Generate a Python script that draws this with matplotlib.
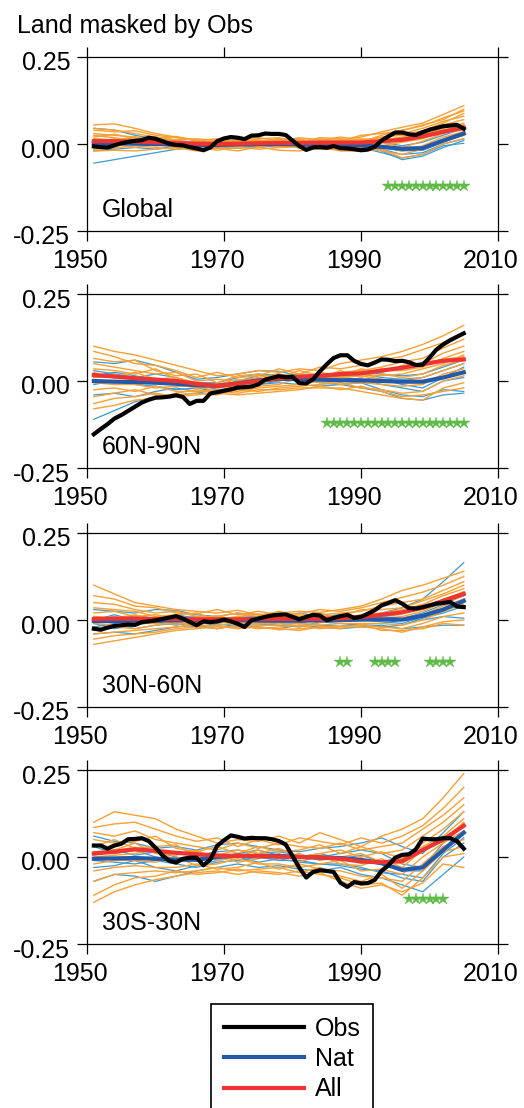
import matplotlib
matplotlib.use("Agg")
import matplotlib.pyplot as plt
import matplotlib.transforms as mtransforms

plt.rcParams['font.family'] = ['Liberation Sans', 'DejaVu Sans']

# ---------------- data ----------------
title = "Land masked by Obs"
regions = ["Global", "60N-90N", "30N-60N", "30S-30N"]
legend_labels = ["Obs", "Nat", "All"]
xticks = [1950, 1970, 1990, 2010]
yticks = [-0.25, 0.0, 0.25]
ytick_labels = ["-0.25", "0.00", "0.25"]

years = list(range(1951, 2006))            # observations, yearly
ens_years = list(range(1951, 2006, 3))     # model members / means, 3-yearly

obs_global = [-0.007, -0.009, -0.010, -0.004, 0.002, 0.006, 0.009, 0.011, 0.018, 0.015,
              0.008, 0.001, -0.003, -0.004, -0.009, -0.013, -0.018, -0.010, 0.008, 0.016,
              0.020, 0.018, 0.014, 0.024, 0.025, 0.030, 0.029, 0.029, 0.026, 0.010,
              -0.006, -0.017, -0.010, -0.009, -0.011, -0.006, -0.012, -0.013, -0.015, -0.018,
              -0.016, -0.008, 0.010, 0.022, 0.033, 0.033, 0.028, 0.026, 0.034, 0.041,
              0.046, 0.051, 0.053, 0.055, 0.044]
obs_60n90n = [-0.153, -0.138, -0.124, -0.108, -0.098, -0.086, -0.074, -0.062, -0.054, -0.048,
              -0.047, -0.045, -0.041, -0.046, -0.066, -0.057, -0.057, -0.036, -0.032, -0.028,
              -0.024, -0.019, -0.018, -0.016, -0.010, 0.004, 0.009, 0.014, 0.011, 0.012,
              -0.006, -0.007, 0.005, 0.028, 0.048, 0.066, 0.074, 0.074, 0.058, 0.049,
              0.045, 0.053, 0.062, 0.061, 0.057, 0.058, 0.054, 0.046, 0.047, 0.067,
              0.090, 0.105, 0.117, 0.127, 0.137]
obs_30n60n = [-0.025, -0.028, -0.022, -0.017, -0.015, -0.013, -0.014, -0.006, -0.004, -0.001,
              0.003, 0.007, 0.011, 0.004, -0.006, -0.015, -0.004, -0.006, -0.004, 0.001,
              -0.004, -0.011, -0.020, -0.001, 0.004, 0.009, 0.013, 0.015, 0.016, 0.009,
              0.002, 0.009, 0.015, 0.013, -0.001, 0.006, 0.011, 0.015, 0.006, 0.009,
              0.018, 0.028, 0.042, 0.049, 0.057, 0.047, 0.034, 0.033, 0.037, 0.042,
              0.047, 0.049, 0.052, 0.039, 0.037]
obs_30s30n = [0.033, 0.033, 0.024, 0.033, 0.038, 0.051, 0.052, 0.054, 0.046, 0.027,
              0.005, -0.011, -0.016, -0.005, -0.002, -0.002, -0.024, -0.007, 0.032, 0.048,
              0.062, 0.058, 0.053, 0.055, 0.054, 0.054, 0.051, 0.046, 0.036, 0.003,
              -0.031, -0.059, -0.043, -0.038, -0.040, -0.043, -0.074, -0.086, -0.072, -0.076,
              -0.075, -0.066, -0.040, -0.024, -0.002, 0.006, 0.008, 0.022, 0.053, 0.051,
              0.051, 0.054, 0.054, 0.046, 0.024]

all_mean_global = [0.008, 0.008, 0.007, 0.005, 0.003, 0.001, 0.000, 0.001, 0.002, 0.003,
                   0.003, 0.004, 0.004, 0.004, 0.008, 0.012, 0.022, 0.035, 0.047]
nat_mean_global = [0.002, 0.002, 0.001, 0.000, -0.002, -0.003, -0.003, -0.001, 0.000, 0.000,
                   -0.001, -0.002, -0.003, -0.004, -0.008, -0.014, -0.012, 0.010, 0.030]
all_mean_60n90n = [0.017, 0.013, 0.008, 0.004, 0.000, -0.008, -0.014, -0.008, 0.000, 0.008,
                   0.012, 0.015, 0.020, 0.022, 0.030, 0.038, 0.048, 0.058, 0.062]
nat_mean_60n90n = [0.000, -0.002, -0.003, -0.005, -0.008, -0.012, -0.014, -0.007, 0.002, 0.006,
                   0.006, 0.004, 0.002, 0.002, 0.000, -0.002, -0.002, 0.010, 0.025]
all_mean_30n60n = [0.003, 0.004, 0.004, 0.003, 0.003, 0.002, 0.002, 0.002, 0.003, 0.003,
                   0.003, 0.003, 0.005, 0.008, 0.015, 0.022, 0.035, 0.055, 0.075]
nat_mean_30n60n = [-0.003, -0.003, -0.002, -0.002, -0.001, -0.001, 0.000, -0.001, -0.002, -0.002,
                   -0.002, -0.001, 0.000, 0.001, 0.002, 0.001, 0.012, 0.030, 0.055]
all_mean_30s30n = [0.010, 0.015, 0.022, 0.018, 0.012, 0.008, 0.004, 0.003, 0.003, 0.001,
                   0.000, -0.001, -0.005, -0.013, -0.015, -0.012, 0.020, 0.050, 0.090]
nat_mean_30s30n = [-0.005, -0.004, -0.003, -0.005, -0.008, -0.008, 0.000, 0.004, 0.002, 0.003,
                   0.000, -0.002, -0.003, -0.008, -0.018, -0.037, -0.030, 0.020, 0.070]

all_members_global = [
    [0.055, 0.058, 0.045, 0.030, 0.020, 0.012, 0.005, 0.010, 0.008, 0.015, 0.010, 0.006, 0.012, 0.020, 0.035, 0.048, 0.060, 0.085, 0.110],
    [0.040, 0.035, 0.038, 0.025, 0.018, 0.010, 0.015, 0.005, 0.012, 0.002, 0.008, 0.015, 0.010, 0.005, 0.025, 0.040, 0.052, 0.075, 0.095],
    [0.030, 0.025, 0.020, 0.015, 0.022, 0.008, -0.005, 0.012, 0.018, 0.010, -0.002, 0.010, 0.020, 0.012, 0.018, 0.030, 0.045, 0.065, 0.080],
    [0.020, 0.028, 0.015, 0.010, 0.005, -0.005, 0.008, 0.000, 0.005, 0.012, 0.015, 0.000, 0.005, 0.015, 0.010, 0.020, 0.030, 0.055, 0.070],
    [0.012, 0.010, 0.020, 0.005, 0.000, 0.005, -0.008, -0.005, 0.010, 0.005, 0.000, 0.008, -0.005, 0.000, 0.012, 0.010, 0.025, 0.045, 0.060],
    [0.005, 0.015, 0.000, 0.012, -0.005, -0.010, 0.002, 0.008, -0.005, 0.000, 0.010, -0.005, 0.002, 0.010, -0.005, 0.005, 0.015, 0.040, 0.055],
    [0.000, -0.005, 0.008, -0.002, 0.010, 0.002, -0.012, -0.003, 0.002, -0.008, -0.005, 0.005, -0.010, -0.005, 0.005, -0.010, 0.008, 0.030, 0.045],
    [-0.008, 0.000, -0.010, 0.000, -0.008, -0.015, -0.005, -0.012, -0.010, 0.005, -0.012, -0.010, 0.000, -0.012, -0.008, -0.020, -0.005, 0.020, 0.035],
    [-0.015, -0.012, -0.005, -0.010, -0.015, -0.008, -0.018, -0.008, -0.015, -0.010, -0.008, -0.015, -0.015, -0.008, -0.020, -0.030, -0.015, 0.010, 0.025],
    [-0.020, -0.018, -0.020, -0.015, -0.010, -0.020, -0.012, -0.020, -0.008, -0.018, -0.020, -0.008, -0.020, -0.020, -0.015, -0.040, -0.030, 0.000, 0.015],
    [0.045, 0.040, 0.030, 0.020, 0.012, 0.015, 0.010, 0.018, 0.005, 0.008, 0.018, 0.012, 0.008, 0.025, 0.030, 0.038, 0.055, 0.070, 0.100],
    [0.025, 0.018, 0.010, 0.020, 0.008, 0.000, 0.012, 0.005, 0.015, 0.018, 0.005, 0.018, 0.015, 0.008, 0.020, 0.025, 0.038, 0.060, 0.088],
    [0.010, 0.005, 0.012, 0.008, 0.002, 0.004, -0.002, 0.003, 0.006, 0.000, 0.005, 0.002, 0.008, 0.005, 0.012, 0.018, 0.028, 0.040, 0.050],
    [0.002, 0.010, 0.004, 0.000, 0.006, -0.002, 0.004, -0.002, 0.000, 0.006, 0.000, 0.008, 0.000, 0.003, 0.005, 0.008, 0.018, 0.032, 0.040],
    [0.015, 0.012, 0.008, 0.010, 0.000, 0.006, 0.002, 0.006, -0.002, 0.004, 0.008, 0.000, 0.004, 0.010, 0.008, 0.015, 0.024, 0.038, 0.055],
]
nat_members_global = [
    [-0.055, -0.045, -0.035, -0.025, -0.015, -0.010, -0.012, -0.005, -0.008, -0.002, -0.010, -0.005, -0.012, -0.010, -0.025, -0.040, -0.030, -0.005, 0.002],
    [0.045, 0.040, 0.025, 0.015, 0.010, 0.005, 0.008, 0.012, 0.005, 0.015, 0.010, 0.008, 0.005, 0.010, 0.005, -0.005, 0.005, 0.025, 0.045],
    [0.015, 0.010, 0.018, 0.005, -0.008, -0.012, -0.005, 0.005, 0.010, 0.005, 0.012, -0.003, 0.000, -0.005, -0.010, -0.020, -0.018, 0.005, 0.025],
    [-0.020, -0.015, -0.010, -0.015, -0.005, 0.005, -0.010, -0.012, -0.003, -0.010, -0.005, -0.012, -0.008, 0.000, -0.015, -0.030, -0.025, 0.000, 0.015],
    [0.005, 0.012, 0.000, 0.010, 0.005, -0.008, 0.002, -0.005, 0.008, 0.000, -0.008, 0.005, -0.003, -0.012, -0.005, -0.010, -0.008, 0.012, 0.035],
    [-0.010, 0.000, 0.005, -0.005, 0.000, -0.005, -0.010, 0.000, -0.010, 0.008, 0.000, -0.008, 0.010, 0.002, -0.020, -0.045, -0.035, -0.010, 0.010],
]
all_members_60n90n = [
    [0.100, 0.085, 0.075, 0.060, 0.045, 0.030, 0.015, 0.020, 0.030, 0.025, 0.035, 0.030, 0.050, 0.060, 0.070, 0.085, 0.105, 0.130, 0.160],
    [0.085, 0.070, 0.050, 0.045, 0.030, 0.010, 0.025, 0.010, 0.015, 0.035, 0.020, 0.040, 0.035, 0.045, 0.060, 0.070, 0.090, 0.110, 0.140],
    [0.065, 0.055, 0.060, 0.030, 0.015, 0.020, -0.005, 0.015, 0.020, 0.010, 0.030, 0.015, 0.025, 0.030, 0.040, 0.055, 0.065, 0.095, 0.120],
    [0.050, 0.040, 0.030, 0.020, 0.025, 0.000, 0.005, 0.000, 0.010, 0.020, 0.008, 0.025, 0.015, 0.035, 0.025, 0.045, 0.050, 0.080, 0.100],
    [0.035, 0.030, 0.020, 0.035, 0.005, -0.010, -0.010, 0.005, -0.005, 0.012, 0.015, 0.005, 0.030, 0.010, 0.030, 0.030, 0.040, 0.065, 0.085],
    [0.020, 0.010, 0.025, 0.005, 0.010, -0.005, -0.020, -0.010, 0.005, 0.000, 0.020, 0.010, 0.010, 0.020, 0.015, 0.020, 0.035, 0.050, 0.075],
    [0.010, 0.020, 0.000, -0.005, -0.010, -0.020, -0.015, -0.020, -0.008, 0.005, 0.000, 0.018, 0.005, 0.000, 0.020, 0.010, 0.020, 0.045, 0.060],
    [-0.005, -0.010, -0.010, -0.020, -0.015, -0.015, -0.030, -0.015, -0.015, -0.010, 0.008, -0.005, 0.010, 0.015, 0.005, 0.000, 0.010, 0.030, 0.050],
    [-0.025, -0.020, -0.030, -0.015, -0.030, -0.030, -0.025, -0.030, -0.020, -0.015, -0.010, 0.000, -0.010, -0.005, -0.010, -0.015, -0.010, 0.020, 0.035],
    [-0.045, -0.035, -0.025, -0.040, -0.040, -0.035, -0.040, -0.025, -0.030, -0.020, -0.015, -0.010, -0.005, -0.020, -0.025, -0.035, -0.030, 0.000, 0.015],
    [-0.065, -0.050, -0.045, -0.035, -0.045, -0.040, -0.030, -0.035, -0.025, -0.025, -0.020, -0.020, -0.020, -0.030, -0.040, -0.050, -0.055, -0.020, -0.005],
    [-0.080, -0.070, -0.055, -0.050, -0.035, -0.025, -0.035, -0.040, -0.035, -0.030, -0.025, -0.015, -0.025, -0.015, -0.030, -0.045, -0.040, -0.030, -0.020],
    [0.020, 0.015, 0.005, 0.008, -0.005, -0.010, -0.012, -0.005, 0.005, 0.008, 0.015, 0.012, 0.022, 0.020, 0.035, 0.035, 0.050, 0.055, 0.065],
    [0.010, 0.012, 0.010, 0.000, 0.003, -0.005, -0.018, -0.010, -0.003, 0.010, 0.010, 0.018, 0.015, 0.025, 0.025, 0.042, 0.045, 0.060, 0.058],
    [0.025, 0.008, 0.012, 0.005, -0.002, -0.012, -0.008, -0.012, 0.002, 0.005, 0.014, 0.020, 0.020, 0.018, 0.032, 0.038, 0.052, 0.062, 0.070],
]
nat_members_60n90n = [
    [-0.110, -0.085, -0.060, -0.045, -0.040, -0.035, -0.025, -0.020, -0.010, -0.005, -0.010, -0.015, -0.010, -0.020, -0.030, -0.050, -0.055, -0.040, -0.035],
    [0.055, 0.050, 0.060, 0.045, 0.025, 0.005, 0.010, 0.020, 0.030, 0.028, 0.015, 0.020, 0.015, 0.025, 0.020, 0.015, 0.020, 0.040, 0.060],
    [-0.040, -0.035, -0.045, -0.030, -0.020, -0.030, -0.020, -0.010, 0.005, 0.010, 0.005, -0.005, -0.010, -0.005, -0.025, -0.040, -0.045, -0.025, -0.030],
    [0.030, 0.020, 0.010, 0.020, 0.010, -0.010, -0.015, 0.000, 0.015, 0.020, 0.010, 0.008, 0.000, -0.005, 0.005, -0.010, -0.020, 0.010, 0.040],
    [-0.010, 0.000, -0.010, -0.015, -0.025, -0.020, -0.030, -0.015, -0.010, 0.000, 0.012, 0.005, 0.010, 0.005, -0.010, -0.020, -0.030, 0.000, 0.010],
    [0.015, 0.025, 0.015, 0.005, 0.000, -0.005, -0.005, 0.010, 0.020, 0.015, 0.020, 0.018, 0.012, 0.020, 0.010, 0.005, 0.010, 0.030, 0.050],
]
all_members_30n60n = [
    [0.100, 0.075, 0.050, 0.040, 0.030, 0.025, 0.020, 0.028, 0.015, 0.020, 0.025, 0.022, 0.030, 0.040, 0.060, 0.085, 0.100, 0.120, 0.140],
    [0.070, 0.060, 0.040, 0.035, 0.020, 0.018, 0.030, 0.015, 0.025, 0.015, 0.018, 0.030, 0.025, 0.035, 0.050, 0.065, 0.080, 0.100, 0.125],
    [0.050, 0.045, 0.030, 0.020, 0.025, 0.010, 0.010, 0.020, 0.010, 0.025, 0.010, 0.015, 0.020, 0.025, 0.040, 0.050, 0.060, 0.085, 0.110],
    [0.035, 0.030, 0.025, 0.010, 0.015, 0.020, 0.000, 0.010, 0.018, 0.005, 0.015, 0.010, 0.010, 0.030, 0.030, 0.035, 0.055, 0.075, 0.100],
    [0.020, 0.025, 0.010, 0.015, 0.005, 0.005, 0.012, 0.000, 0.005, 0.010, 0.005, 0.020, 0.005, 0.015, 0.020, 0.030, 0.045, 0.070, 0.090],
    [0.010, 0.005, 0.015, 0.000, 0.008, -0.005, 0.005, 0.008, -0.005, 0.000, 0.008, 0.000, 0.012, 0.010, 0.010, 0.020, 0.035, 0.060, 0.080],
    [0.000, 0.010, -0.005, 0.005, -0.005, 0.000, -0.008, -0.005, 0.000, 0.008, -0.005, 0.005, -0.005, 0.000, 0.015, 0.010, 0.025, 0.050, 0.070],
    [-0.010, -0.015, -0.010, -0.010, -0.012, -0.010, -0.002, -0.012, -0.010, -0.008, -0.020, -0.008, 0.000, 0.005, 0.000, 0.000, 0.015, 0.040, 0.060],
    [-0.025, -0.020, -0.025, -0.015, -0.005, -0.018, -0.015, -0.008, -0.015, -0.015, -0.010, -0.015, -0.010, -0.010, -0.010, -0.015, 0.000, 0.025, 0.045],
    [-0.040, -0.035, -0.030, -0.025, -0.020, -0.012, -0.020, -0.020, -0.020, -0.025, -0.030, -0.020, -0.018, -0.015, -0.020, -0.025, -0.010, 0.010, 0.020],
    [-0.055, -0.045, -0.040, -0.035, -0.025, -0.020, -0.025, -0.015, -0.025, -0.020, -0.015, -0.025, -0.020, -0.020, -0.025, -0.035, -0.020, -0.005, 0.000],
    [-0.070, -0.060, -0.050, -0.040, -0.030, -0.025, -0.018, -0.025, -0.020, -0.028, -0.025, -0.020, -0.025, -0.012, -0.030, -0.030, -0.025, -0.010, -0.015],
    [0.005, 0.000, 0.008, 0.004, 0.000, 0.005, 0.002, -0.002, 0.005, 0.002, 0.000, 0.005, 0.008, 0.005, 0.012, 0.025, 0.032, 0.058, 0.078],
    [-0.002, 0.008, 0.002, -0.002, 0.006, 0.000, 0.006, 0.005, 0.000, 0.006, 0.005, 0.000, 0.002, 0.010, 0.018, 0.018, 0.038, 0.050, 0.070],
    [0.010, 0.004, -0.002, 0.008, 0.002, 0.004, -0.002, 0.004, 0.008, -0.002, 0.004, 0.008, 0.004, 0.006, 0.015, 0.022, 0.035, 0.055, 0.082],
]
nat_members_30n60n = [
    [0.030, 0.025, 0.020, 0.030, 0.028, 0.015, 0.010, 0.020, 0.015, 0.010, 0.020, 0.010, 0.015, 0.010, 0.020, 0.035, 0.060, 0.110, 0.165],
    [-0.040, -0.035, -0.040, -0.030, -0.020, -0.015, -0.025, -0.015, -0.020, -0.025, -0.015, -0.020, -0.025, -0.020, -0.015, -0.025, -0.020, -0.015, -0.015],
    [0.010, 0.000, 0.012, 0.005, 0.015, 0.005, -0.005, 0.008, 0.010, -0.005, 0.005, 0.012, 0.000, 0.005, 0.010, 0.005, 0.020, 0.045, 0.070],
    [-0.020, -0.010, -0.025, -0.015, -0.010, -0.020, -0.010, -0.020, -0.010, -0.015, -0.020, -0.005, -0.010, -0.015, -0.020, -0.015, 0.005, 0.020, 0.040],
    [0.000, 0.015, 0.000, -0.010, 0.005, 0.010, 0.005, -0.005, 0.000, 0.005, -0.008, 0.000, 0.010, 0.000, -0.005, -0.010, 0.010, 0.030, 0.050],
    [-0.010, -0.025, -0.015, -0.005, -0.015, -0.005, -0.015, -0.010, -0.015, -0.008, -0.010, -0.015, -0.018, -0.012, -0.010, 0.000, 0.000, 0.010, 0.005],
]
all_members_30s30n = [
    [0.100, 0.130, 0.120, 0.110, 0.080, 0.060, 0.040, 0.050, 0.045, 0.060, 0.040, 0.070, 0.050, 0.030, 0.060, 0.080, 0.110, 0.170, 0.240],
    [0.085, 0.095, 0.100, 0.080, 0.060, 0.045, 0.055, 0.030, 0.050, 0.035, 0.055, 0.045, 0.035, 0.055, 0.040, 0.060, 0.090, 0.140, 0.200],
    [0.070, 0.060, 0.075, 0.050, 0.040, 0.030, 0.020, 0.040, 0.025, 0.040, 0.030, 0.025, 0.040, 0.020, 0.030, 0.040, 0.080, 0.120, 0.170],
    [0.050, 0.040, 0.045, 0.060, 0.025, 0.015, 0.030, 0.010, 0.030, 0.015, 0.020, 0.035, 0.010, 0.030, 0.010, 0.020, 0.060, 0.100, 0.150],
    [0.030, 0.050, 0.025, 0.030, 0.035, 0.000, 0.005, 0.020, 0.010, 0.025, 0.000, 0.010, 0.020, 0.000, 0.015, -0.005, 0.040, 0.080, 0.130],
    [0.015, 0.020, 0.040, 0.010, 0.005, 0.020, -0.010, 0.000, 0.020, -0.005, 0.010, -0.010, 0.000, 0.010, -0.015, 0.000, 0.030, 0.060, 0.110],
    [0.000, 0.005, 0.010, 0.020, -0.010, -0.010, 0.010, -0.015, -0.005, 0.010, -0.015, 0.005, -0.020, -0.025, -0.005, -0.030, 0.020, 0.050, 0.090],
    [-0.020, -0.010, -0.010, -0.015, 0.000, -0.025, -0.020, -0.005, -0.020, -0.020, -0.030, -0.020, -0.010, -0.040, -0.035, -0.050, 0.000, 0.040, 0.075],
    [-0.040, -0.030, -0.025, -0.030, -0.030, -0.020, -0.035, -0.030, -0.015, -0.035, -0.020, -0.035, -0.040, -0.055, -0.060, -0.070, -0.020, 0.030, 0.050],
    [-0.070, -0.050, -0.045, -0.040, -0.045, -0.040, -0.030, -0.040, -0.035, -0.030, -0.045, -0.030, -0.055, -0.070, -0.050, -0.090, -0.040, 0.015, 0.030],
    [-0.110, -0.080, -0.060, -0.055, -0.040, -0.050, -0.045, -0.035, -0.045, -0.050, -0.040, -0.050, -0.060, -0.080, -0.075, -0.110, -0.060, 0.000, 0.010],
    [-0.130, -0.100, -0.080, -0.065, -0.055, -0.045, -0.040, -0.050, -0.040, -0.045, -0.055, -0.045, -0.070, -0.090, -0.080, -0.100, -0.075, -0.020, -0.030],
    [0.015, 0.010, 0.025, 0.015, 0.015, 0.005, 0.008, 0.000, 0.005, 0.005, -0.005, 0.005, -0.008, -0.010, -0.020, -0.010, 0.025, 0.050, 0.095],
    [0.005, 0.020, 0.018, 0.022, 0.008, 0.012, 0.000, 0.006, 0.000, -0.003, 0.005, -0.005, 0.000, -0.018, -0.012, -0.018, 0.015, 0.055, 0.085],
    [0.010, 0.018, 0.028, 0.012, 0.010, 0.004, 0.006, 0.004, 0.006, 0.002, 0.000, 0.002, -0.006, -0.012, -0.015, -0.006, 0.022, 0.045, 0.100],
]
nat_members_30s30n = [
    [0.060, 0.045, 0.040, 0.025, 0.030, 0.020, 0.035, 0.040, 0.030, 0.020, 0.015, 0.025, 0.030, 0.040, 0.055, 0.030, 0.010, 0.070, 0.130],
    [-0.070, -0.050, -0.055, -0.070, -0.055, -0.040, -0.030, -0.020, -0.030, -0.025, -0.035, -0.040, -0.030, -0.050, -0.060, -0.080, -0.100, -0.050, 0.000],
    [0.030, 0.010, 0.020, 0.000, -0.010, 0.005, 0.015, 0.020, 0.010, 0.015, 0.005, 0.000, 0.010, 0.020, 0.010, -0.020, -0.030, 0.040, 0.090],
    [-0.030, -0.025, -0.010, -0.030, -0.040, -0.025, -0.010, 0.000, -0.015, -0.005, -0.015, -0.020, -0.025, -0.035, -0.040, -0.060, -0.070, 0.000, 0.040],
    [0.010, 0.020, 0.005, 0.015, 0.000, -0.010, -0.005, 0.010, 0.020, 0.005, 0.000, 0.010, -0.005, 0.005, -0.015, -0.040, -0.040, 0.020, 0.070],
    [-0.010, -0.015, -0.020, -0.010, -0.020, -0.030, -0.015, -0.010, 0.000, -0.010, -0.010, -0.020, -0.020, -0.030, -0.045, -0.050, -0.060, 0.010, 0.055],
]

star_years_global = list(range(1994, 2006))
star_years_60n90n = list(range(1985, 2006))
star_years_30n60n = [1987, 1988, 1992, 1993, 1994, 1995, 2000, 2001, 2002, 2003]
star_years_30s30n = list(range(1997, 2003))
star_level = -0.12

panels = [
    (obs_global, all_mean_global, nat_mean_global, all_members_global, nat_members_global, star_years_global),
    (obs_60n90n, all_mean_60n90n, nat_mean_60n90n, all_members_60n90n, nat_members_60n90n, star_years_60n90n),
    (obs_30n60n, all_mean_30n60n, nat_mean_30n60n, all_members_30n60n, nat_members_30n60n, star_years_30n60n),
    (obs_30s30n, all_mean_30s30n, nat_mean_30s30n, all_members_30s30n, nat_members_30s30n, star_years_30s30n),
]

# ---------------- styling ----------------
W, H = 524, 1108
c_all_ens = "#F8A032"
c_nat_ens = "#3A9AD6"
c_nat = "#2458A8"
c_all = "#EE3333"
c_obs = "#000000"
c_star = "#5DBB46"

fig = plt.figure(figsize=(W / 100, H / 100), dpi=100)

ax_left, ax_right = 87, 498
tops = [57, 294, 533, 770]
ax_h = 174

handles = None
for i, (ax_top, region, data) in enumerate(zip(tops, regions, panels)):
    obs, all_mean, nat_mean, all_mem, nat_mem, stars = data
    ax = fig.add_axes([ax_left / W, 1 - (ax_top + ax_h) / H, (ax_right - ax_left) / W, ax_h / H])
    for m in nat_mem:
        ax.plot(ens_years, m, color=c_nat_ens, lw=0.9, zorder=1)
    for m in all_mem:
        ax.plot(ens_years, m, color=c_all_ens, lw=1.0, zorder=2)
    l_nat, = ax.plot(ens_years, nat_mean, color=c_nat, lw=3.0, zorder=3)
    l_all, = ax.plot(ens_years, all_mean, color=c_all, lw=3.0, zorder=4)
    l_obs, = ax.plot(years, obs, color=c_obs, lw=3.0, zorder=5)
    ax.plot(stars, [star_level] * len(stars), ls='none', marker='*', ms=9,
            color=c_star, mec=c_star, mew=0.3, zorder=6)
    handles = [l_obs, l_nat, l_all]

    ax.set_xlim(1950, 2010)
    ax.set_ylim(-0.25, 0.25)
    ax.set_xticks(xticks)
    ax.set_yticks(yticks)
    ax.set_yticklabels(ytick_labels)
    ax.tick_params(direction='out', length=7, width=0.9, top=True, right=True,
                   labeltop=False, labelright=False, labelsize=18, colors='black')
    ax.tick_params(axis='x', pad=6)
    ax.tick_params(axis='y', pad=5)
    for s in ax.spines.values():
        s.set_linewidth(0.9)
    xoff = mtransforms.ScaledTranslation(-7 / 100, 0, fig.dpi_scale_trans)
    for lab in ax.get_xticklabels():
        lab.set_transform(lab.get_transform() + xoff)
    yoff = mtransforms.ScaledTranslation(0, -4 / 100, fig.dpi_scale_trans)
    for lab in ax.get_yticklabels():
        lab.set_transform(lab.get_transform() + yoff)
    ax.text(0.036, 0.08, region, transform=ax.transAxes, fontsize=18,
            ha='left', va='baseline')

fig.text(17 / W, 1 - 33 / H, title, fontsize=18, ha='left', va='baseline')

leg = fig.legend(handles, legend_labels, loc='upper left',
                 bbox_to_anchor=(211 / W, 1 - 1004 / H), bbox_transform=fig.transFigure,
                 fontsize=18, frameon=True, fancybox=False, shadow=False,
                 borderpad=0.5, handlelength=3.2, handletextpad=0.45,
                 labelspacing=0.26, borderaxespad=0.0, framealpha=1)
leg.get_frame().set_edgecolor('black')
leg.get_frame().set_linewidth(1.2)

fig.savefig("out.png", dpi=100)
